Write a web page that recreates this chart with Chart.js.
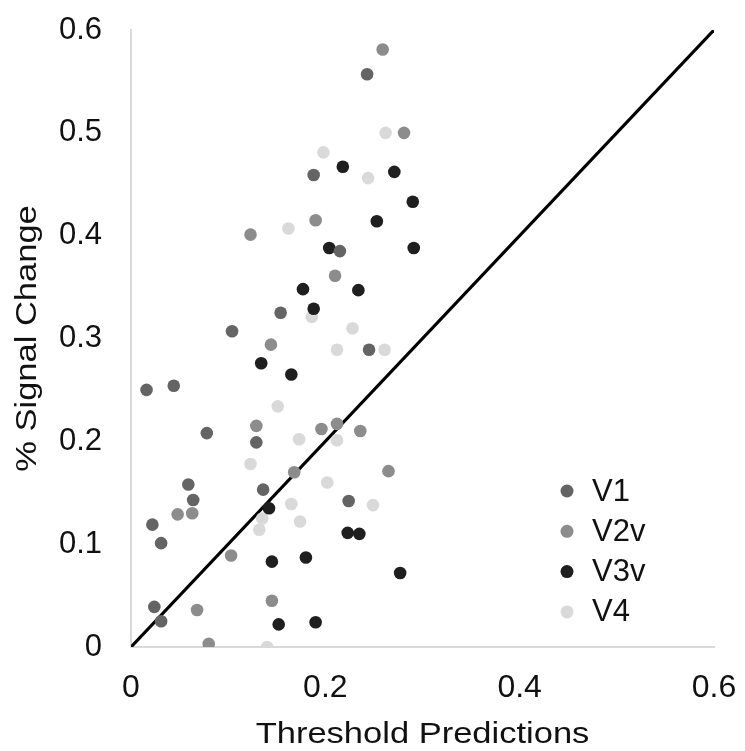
<!DOCTYPE html>
<html>
<head>
<meta charset="utf-8">
<script src="https://cdn.jsdelivr.net/npm/chart.js@4.4.0/dist/chart.umd.min.js"></script>
<style>
  html, body { margin: 0; padding: 0; background: #fff; }
  #wrap { width: 745px; height: 751px; }
</style>
</head>
<body>
<div id="wrap"><canvas id="chart" width="745" height="751"></canvas></div>
<script>
// values: [threshold prediction, % signal change]
const v1 = [
  [0.243, 0.557], [0.188, 0.459], [0.215, 0.385], [0.154, 0.325], [0.104, 0.307],
  [0.245, 0.289], [0.016, 0.250], [0.044, 0.254], [0.078, 0.208], [0.129, 0.199],
  [0.059, 0.158], [0.136, 0.153], [0.064, 0.143], [0.224, 0.142], [0.022, 0.119],
  [0.031, 0.101], [0.024, 0.039], [0.031, 0.025]
];
const v2v = [
  [0.259, 0.581], [0.281, 0.500], [0.190, 0.415], [0.123, 0.401], [0.210, 0.361],
  [0.144, 0.294], [0.129, 0.215], [0.196, 0.212], [0.212, 0.217], [0.236, 0.210],
  [0.168, 0.170], [0.265, 0.171], [0.048, 0.129], [0.063, 0.130], [0.103, 0.089],
  [0.068, 0.036], [0.145, 0.045], [0.080, 0.003]
];
const v3v = [
  [0.218, 0.467], [0.271, 0.462], [0.290, 0.433], [0.253, 0.414], [0.204, 0.388],
  [0.291, 0.388], [0.177, 0.348], [0.234, 0.347], [0.188, 0.329], [0.134, 0.276],
  [0.165, 0.265], [0.142, 0.135], [0.223, 0.111], [0.235, 0.110], [0.145, 0.083],
  [0.180, 0.087], [0.277, 0.072], [0.152, 0.022], [0.190, 0.024]
];
const v4 = [
  [0.262, 0.500], [0.198, 0.481], [0.244, 0.456], [0.162, 0.407], [0.186, 0.321],
  [0.228, 0.310], [0.212, 0.289], [0.261, 0.289], [0.151, 0.234], [0.173, 0.202],
  [0.212, 0.201], [0.123, 0.178], [0.202, 0.160], [0.165, 0.139], [0.249, 0.138],
  [0.135, 0.125], [0.132, 0.114], [0.174, 0.122], [0.140, 0.000]
];
const identityLine = [[0, 0], [0.6, 0.6]];

const seriesNames = ["V1", "V2v", "V3v", "V4"];
const seriesColors = ["#646464", "#8c8c8c", "#1f1f1f", "#d9d9d9"];
const xTicks = [0, 0.2, 0.4, 0.6];
const yTicks = [0, 0.1, 0.2, 0.3, 0.4, 0.5, 0.6];
const xTitle = "Threshold Predictions";
const yTitle = "% Signal Change";

const FONT = '"Liberation Sans", Arial, sans-serif';

const toPoints = arr => arr.map(p => ({ x: p[0], y: p[1] }));
const fmt = v => String(+v.toFixed(1));

// legend + axis titles drawn by hand so they can sit where the reference has them
const extras = {
  id: "extras",
  afterDraw(chart) {
    const ctx = chart.ctx;
    const area = chart.chartArea;
    ctx.save();
    ctx.fillStyle = "#111";

    // x title
    ctx.font = "30px " + FONT;
    ctx.textAlign = "center";
    ctx.textBaseline = "alphabetic";
    ctx.save();
    ctx.translate((area.left + area.right) / 2, 743);
    ctx.scale(1.15, 1);
    ctx.fillText(xTitle, 0, 0);
    ctx.restore();

    // y title
    ctx.save();
    ctx.translate(28, (area.top + area.bottom) / 2);
    ctx.rotate(-Math.PI / 2);
    ctx.scale(1.15, 1);
    ctx.textBaseline = "middle";
    ctx.fillText(yTitle, 0, 0);
    ctx.restore();

    // legend
    ctx.font = "31px " + FONT;
    ctx.textAlign = "left";
    ctx.textBaseline = "middle";
    seriesNames.forEach((name, i) => {
      const y = 491 + i * 40.3;
      ctx.fillStyle = seriesColors[i];
      ctx.beginPath();
      ctx.arc(567, y, 6.5, 0, Math.PI * 2);
      ctx.fill();
      ctx.fillStyle = "#111";
      ctx.fillText(name, 592, y + 1);
    });
    ctx.restore();
  }
};

const datasets = [v1, v2v, v3v, v4].map((arr, i) => ({
  label: seriesNames[i],
  data: toPoints(arr),
  backgroundColor: seriesColors[i],
  borderWidth: 0,
  pointRadius: 6.3,
  pointHoverRadius: 6.3,
  order: 0
}));
datasets.push({
  label: "y = x",
  data: toPoints(identityLine),
  showLine: true,
  borderColor: "#000",
  borderWidth: 3.2,
  pointRadius: 0,
  order: 1
});

new Chart(document.getElementById("chart"), {
  type: "scatter",
  data: { datasets },
  options: {
    responsive: false,
    animation: false,
    layout: { padding: { top: 30, right: 31, left: 0, bottom: 0 } },
    plugins: { legend: { display: false }, tooltip: { enabled: false } },
    scales: {
      x: {
        type: "linear",
        min: 0,
        max: 0.6,
        grid: { display: false },
        border: { display: true, color: "#d9d9d9", width: 2 },
        afterBuildTicks: s => { s.ticks = xTicks.map(v => ({ value: v })); },
        afterFit: s => {
          s.height = 104;
          s.paddingLeft = 0;
          s.paddingRight = 0;
        },
        ticks: {
          autoSkip: false,
          maxRotation: 0,
          padding: 14,
          color: "#111",
          font: { size: 32, family: FONT },
          callback: v => fmt(v)
        }
      },
      y: {
        type: "linear",
        min: 0,
        max: 0.6,
        grid: { display: false },
        border: { display: true, color: "#d9d9d9", width: 2 },
        afterBuildTicks: s => { s.ticks = yTicks.map(v => ({ value: v })); },
        afterFit: s => {
          s.width = 131;
          s.paddingTop = 0;
          s.paddingBottom = 0;
        },
        ticks: {
          autoSkip: false,
          padding: 21,
          color: "#111",
          font: { size: 31, family: FONT },
          callback: v => fmt(v)
        }
      }
    }
  },
  plugins: [extras]
});
</script>
</body>
</html>
